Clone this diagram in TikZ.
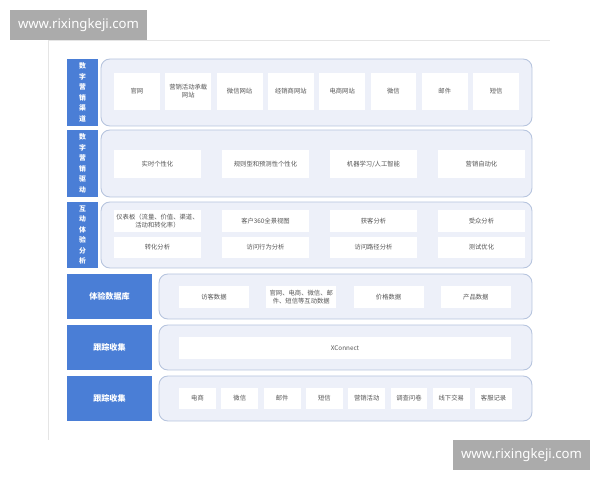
\documentclass[tikz,border=0pt]{standalone}
\usepackage{fontspec}
\setmainfont{Noto Sans CJK SC}
\newfontfamily\wmfont{Noto Sans}
\definecolor{labblue}{HTML}{4A7ED6}
\definecolor{panelfill}{HTML}{EDF0F9}
\definecolor{paneldraw}{HTML}{B6C4DE}
\definecolor{itemtext}{HTML}{555555}
\tikzset{
  lab/.style={fill=labblue,text=white,inner sep=0pt,align=center,font=\bfseries\fontsize{4.6}{5}\selectfont},
  vlab/.style={lab,font=\bfseries\fontsize{3.9}{6}\selectfont},
  panel/.style={fill=panelfill,draw=paneldraw,line width=.5pt,rounded corners=5pt},
  item/.style={fill=white,inner sep=0pt,align=center,text=itemtext,font=\fontsize{3.6}{4.6}\selectfont},
  wm/.style={fill=black!33,text=white,inner sep=0pt,minimum width=2.74cm,minimum height=.6cm,font=\wmfont\fontsize{7.5}{9}\selectfont}
}
\begin{document}
\begin{tikzpicture}[x=.02cm,y=-.02cm]
\useasboundingbox (0,0) rectangle (600,480);
\draw[black!10,line width=.4pt] (550,40)--(48,40)--(48,440);
\node[wm] (wm1) at (78.5,25) {www.rixingkeji.com};
\node[wm] (wm2) at (521.5,455) {www.rixingkeji.com};
\draw[panel] (101,59) rectangle (532,126);
\draw[panel] (101,130) rectangle (532,197);
\draw[panel] (101,202) rectangle (532,268);
\draw[panel] (159,274) rectangle (532,319);
\draw[panel] (159,325) rectangle (532,370);
\draw[panel] (159,376) rectangle (532,421);
\node[vlab,minimum width=.62cm,minimum height=1.34cm] (qd) at (82.5,92.5) {数\\字\\营\\销\\渠\\道};
\node[vlab,minimum width=.62cm,minimum height=1.34cm] (qjd) at (82.5,163.5) {数\\字\\营\\销\\驱\\动};
\node[vlab,minimum width=.62cm,minimum height=1.32cm] (fx) at (82.5,235) {互\\动\\体\\验\\分\\析};
\node[lab,minimum width=1.7cm,minimum height=.9cm] (sjk) at (109.5,296.5) {体验数据库};
\node[lab,minimum width=1.7cm,minimum height=.9cm] (gz1) at (109.5,347.5) {跟踪收集};
\node[lab,minimum width=1.7cm,minimum height=.9cm] (gz2) at (109.5,398.5) {跟踪收集};
\foreach \t [count=\i] in {官网,{营销活动承载\\网站},微信网站,经销商网站,电商网站,微信,邮件,短信}
  \node[item,minimum width=.92cm,minimum height=.74cm] (qd\i) at ({137+(\i-1)*51.3},91.5) {\t};
\foreach \t [count=\i] in {实时个性化,规则型和预测性个性化,机器学习/人工智能,营销自动化}
  \node[item,minimum width=1.74cm,minimum height=.56cm] (qjd\i) at ({157.5+(\i-1)*108},164) {\t};
\foreach \t [count=\i] in {{仪表板（流量、价值、渠道、\\活动和转化率）},客户360全景视图,获客分析,受众分析}
  \node[item,minimum width=1.74cm,minimum height=.44cm] (fxa\i) at ({157.5+(\i-1)*108},221) {\t};
\foreach \t [count=\i] in {转化分析,访问行为分析,访问路径分析,测试优化}
  \node[item,minimum width=1.74cm,minimum height=.42cm] (fxb\i) at ({157.5+(\i-1)*108},247.5) {\t};
\foreach \t [count=\i] in {访客数据,{官网、电商、微信、邮\\件、短信等互动数据},价格数据,产品数据}
  \node[item,minimum width=1.4cm,minimum height=.44cm] (sjk\i) at ({214+(\i-1)*87.3},297) {\t};
\node[item,minimum width=6.64cm,minimum height=.44cm] (xc) at (345,348) {XConnect};
\foreach \t [count=\i] in {电商,微信,邮件,短信,营销活动,调查问卷,线下交易,客服记录}
  \node[item,minimum width=.74cm,minimum height=.42cm] (gz\i) at ({197.5+(\i-1)*42.3},398.5) {\t};
\end{tikzpicture}
\end{document}
